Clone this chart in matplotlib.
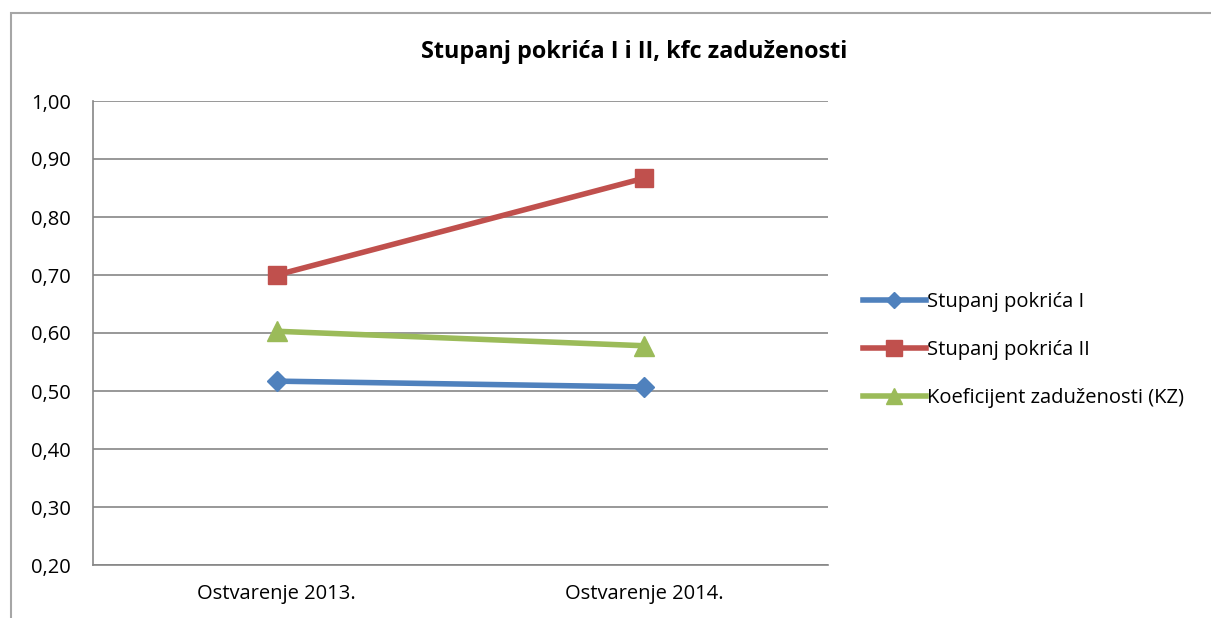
import matplotlib
matplotlib.use("Agg")
import matplotlib.pyplot as plt
from matplotlib.patches import Rectangle
from matplotlib.ticker import FuncFormatter

categories = ["Ostvarenje 2013.", "Ostvarenje 2014."]
stupanj_I = [0.517, 0.507]
stupanj_II = [0.700, 0.867]
koef_kz = [0.603, 0.578]
series_names = ["Stupanj pokrića I", "Stupanj pokrića II", "Koeficijent zaduženosti (KZ)"]
title = "Stupanj pokrića I i II, kfc zaduženosti"

plt.rcParams['font.family'] = ['Open Sans', 'DejaVu Sans']

W, H = 1211, 618
fig = plt.figure(figsize=(W / 100, H / 100), dpi=100)
ax = fig.add_axes([93 / W, 1 - 565 / H, (828 - 93) / W, (565 - 101) / H])

x = list(range(len(categories)))
ax.plot(x, stupanj_I, color="#4F81BD", lw=4.0, marker="D", ms=10, label=series_names[0], zorder=3)
ax.plot(x, stupanj_II, color="#C0504D", lw=4.0, marker="s", ms=13, label=series_names[1], zorder=3)
ax.plot(x, koef_kz, color="#9BBB59", lw=4.0, marker="^", ms=14, label=series_names[2], zorder=3)

ax.set_xlim(-0.5, 1.5)
ax.set_ylim(0.2, 1.0)
ax.set_yticks([0.2 + 0.1 * i for i in range(9)])
ax.yaxis.set_major_formatter(FuncFormatter(lambda v, p: f"{v:.2f}".replace(".", ",")))
ax.set_xticks(x)
ax.set_xticklabels(categories)
ax.tick_params(axis="both", length=0, labelsize=14.5, colors="#000000")
ax.tick_params(axis="y", pad=16)
ax.tick_params(axis="x", pad=14)
ax.grid(axis="y", color="#868686", lw=1.2)
ax.set_axisbelow(True)
for s in ["top", "right"]:
    ax.spines[s].set_visible(False)
for s in ["left", "bottom"]:
    ax.spines[s].set_color("#868686")
    ax.spines[s].set_linewidth(1.2)

fig.text(634 / W, 1 - 52 / H, title, ha="center", va="center", fontsize=16.8, fontweight="bold")

fig.legend(loc="center left", bbox_to_anchor=(845 / W, 1 - 350 / H), frameon=False,
           fontsize=14.5, handlelength=3.1, handletextpad=0.05, labelspacing=1.38,
           markerscale=0.85)

fig.patches.append(Rectangle((11 / W, -0.1), 2, 1.1 - 13 / H, transform=fig.transFigure,
                             fill=False, edgecolor="#A6A6A6", lw=1.5))

fig.savefig("out.png", dpi=100)
